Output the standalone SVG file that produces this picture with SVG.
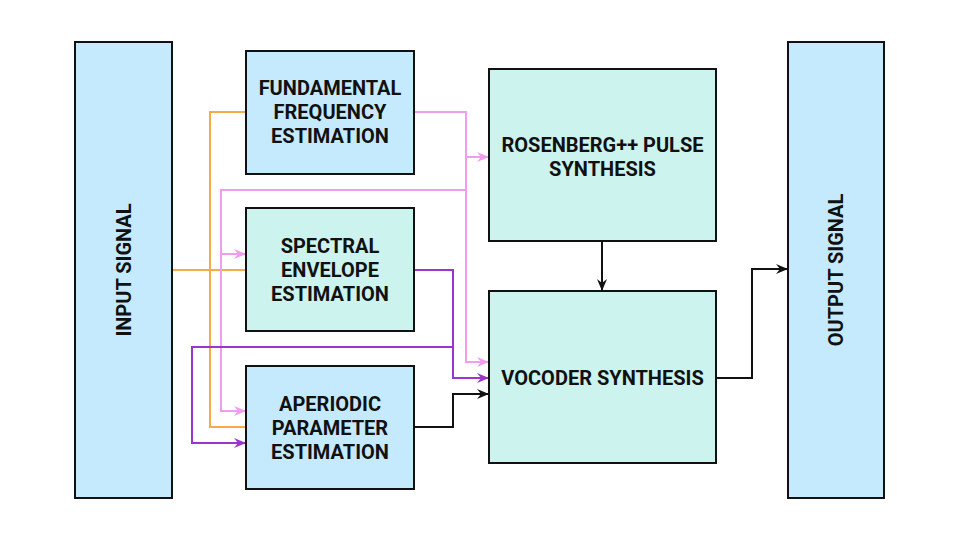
<svg xmlns="http://www.w3.org/2000/svg" width="960" height="540" viewBox="0 0 960 540">
<style>
.box{stroke:#111;stroke-width:2}
.blue{fill:#c6eafd}
.teal{fill:#cdf3ef}
.t{font-family:Roboto,"Liberation Sans",sans-serif;font-weight:bold;font-size:20px;fill:#111;text-anchor:middle;dominant-baseline:central}
.c{fill:none;stroke-width:2}
.or{stroke:#f6ab4a}
.pk{stroke:#f09cef}
.pu{stroke:#9b36cc}
.bk{stroke:#111}
</style>
<defs>
<marker id="aor" markerUnits="userSpaceOnUse" markerWidth="14" markerHeight="12" refX="11" refY="5" orient="auto" viewBox="0 0 14 10"><path d="M0,0 L12,5 L0,10 L4,5 z" fill="#f6ab4a"/></marker>
<marker id="apk" markerUnits="userSpaceOnUse" markerWidth="14" markerHeight="12" refX="11" refY="5" orient="auto" viewBox="0 0 14 10"><path d="M0,0 L12,5 L0,10 L4,5 z" fill="#f09cef"/></marker>
<marker id="apu" markerUnits="userSpaceOnUse" markerWidth="14" markerHeight="12" refX="11" refY="5" orient="auto" viewBox="0 0 14 10"><path d="M0,0 L12,5 L0,10 L4,5 z" fill="#9b36cc"/></marker>
<marker id="abk" markerUnits="userSpaceOnUse" markerWidth="14" markerHeight="12" refX="11" refY="5" orient="auto" viewBox="0 0 14 10"><path d="M0,0 L12,5 L0,10 L4,5 z" fill="#111"/></marker>
</defs>
<g id="connectors">
<path class="c or" d="M172,270 H246"/>
<path class="c or" d="M246,112 H210 V427 H246"/>
<path class="c pk" d="M414,112 H466 V362 H488" marker-end="url(#apk)"/>
<path class="c pk" d="M466,157 H488" marker-end="url(#apk)"/>
<path class="c pk" d="M466,190 H221 V411 H245" marker-end="url(#apk)"/>
<path class="c pk" d="M221,254 H245" marker-end="url(#apk)"/>
<path class="c pu" d="M414,270 H453 V378 H488" marker-end="url(#apu)"/>
<path class="c pu" d="M453,347 H192 V443 H245" marker-end="url(#apu)"/>
<path class="c bk" d="M414,427 H453 V394 H488" marker-end="url(#abk)"/>
<path class="c bk" d="M602,241 V290" marker-end="url(#abk)"/>
<path class="c bk" d="M716,378 H752 V269 H787" marker-end="url(#abk)"/>
</g>
<g id="input">
<rect class="box blue" x="75" y="42" width="97" height="456"/>
<text class="t" transform="translate(123.5,270) rotate(-90)">INPUT SIGNAL</text>
</g>
<g id="ffe">
<rect class="box blue" x="246" y="51" width="168" height="123"/>
<text class="t" x="330" y="88">FUNDAMENTAL</text>
<text class="t" x="330" y="112">FREQUENCY</text>
<text class="t" x="330" y="136">ESTIMATION</text>
</g>
<g id="see">
<rect class="box teal" x="246" y="208" width="168" height="123"/>
<text class="t" x="330" y="246">SPECTRAL</text>
<text class="t" x="330" y="270">ENVELOPE</text>
<text class="t" x="330" y="294">ESTIMATION</text>
</g>
<g id="ape">
<rect class="box blue" x="246" y="366" width="168" height="123"/>
<text class="t" x="330" y="404">APERIODIC</text>
<text class="t" x="330" y="428">PARAMETER</text>
<text class="t" x="330" y="452">ESTIMATION</text>
</g>
<g id="rosenberg">
<rect class="box teal" x="489" y="69" width="227" height="172"/>
<text class="t" x="602.5" y="145">ROSENBERG++ PULSE</text>
<text class="t" x="602.5" y="169">SYNTHESIS</text>
</g>
<g id="vocoder">
<rect class="box teal" x="489" y="291" width="227" height="172"/>
<text class="t" x="602.5" y="378">VOCODER SYNTHESIS</text>
</g>
<g id="output">
<rect class="box blue" x="788" y="42" width="96" height="456"/>
<text class="t" transform="translate(836,270) rotate(-90)">OUTPUT SIGNAL</text>
</g>
</svg>
